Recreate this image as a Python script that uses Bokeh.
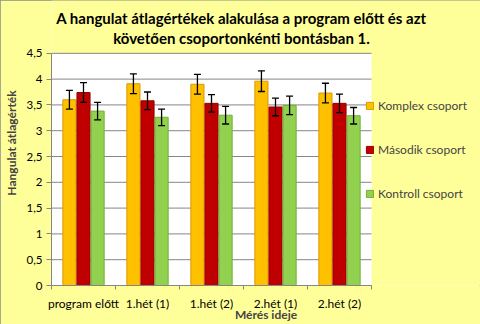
from bokeh.plotting import figure
from bokeh.models import (ColumnDataSource, FixedTicker, Whisker, TeeHead, Legend,
                          LegendItem, Label, BoxAnnotation)
from bokeh.embed import file_html
from bokeh.resources import INLINE

categories = ["program előtt", "1.hét (1)", "1.hét (2)", "2.hét (1)", "2.hét (2)"]
series = ["Komplex csoport", "Második csoport", "Kontroll csoport"]
komplex = [3.60, 3.91, 3.90, 3.96, 3.73]
komplex_err = [0.18, 0.19, 0.19, 0.20, 0.19]
masodik = [3.74, 3.58, 3.53, 3.46, 3.53]
masodik_err = [0.19, 0.17, 0.17, 0.17, 0.18]
kontroll = [3.38, 3.26, 3.30, 3.49, 3.29]
kontroll_err = [0.17, 0.16, 0.17, 0.18, 0.16]
y_ticks = [0, 0.5, 1, 1.5, 2, 2.5, 3, 3.5, 4, 4.5]
y_tick_labels = ["0", "0,5", "1", "1,5", "2", "2,5", "3", "3,5", "4", "4,5"]
title_lines = ["A hangulat átlagértékek alakulása a program előtt és azt",
               "követően csoportonkénti bontásban 1."]
x_title = "Mérés ideje"
y_title = "Hangulat átlagérték"

fills = ["#FFC000", "#C00000", "#92D050"]
edges = ["#D99A00", "#980000", "#72B030"]
offsets = [-0.22, 0.0, 0.22]
FONT = "Lato"
BG = "#FFFF99"

W, H = 480, 324
LEFT, BOTTOM = 47, 38          # outer margins holding the axes
PLOT_W, PLOT_H = 323, 233      # visible white plot area in pixels
n = len(categories)
y_max = y_ticks[-1]
frame_w, frame_h = W - LEFT, H - BOTTOM
x_end = n * frame_w / PLOT_W
y_end = y_max * frame_h / PLOT_H

p = figure(width=W, height=H, x_range=(0, x_end), y_range=(0, y_end),
           output_backend="svg", toolbar_location=None,
           min_border_left=LEFT, min_border_right=0, min_border_top=0,
           min_border_bottom=BOTTOM)
p.background_fill_color = BG
p.border_fill_color = BG
p.outline_line_color = None
p.styles = {"outline": "1px solid #8C8C8C", "outline-offset": "-1px"}
p.xgrid.visible = False
p.ygrid.visible = False

# white plot area
p.add_layout(BoxAnnotation(left=0, right=n, bottom=0, top=y_max, fill_color="white",
                           fill_alpha=1, line_color=None, level="underlay"))
# horizontal gridlines
p.segment(x0=[0] * len(y_ticks), x1=[n] * len(y_ticks), y0=y_ticks, y1=y_ticks,
          line_color="#868686", line_width=1)

centers = [i + 0.5 for i in range(n)]
renderers = []
for vals, errs, off, fc, ec in zip([komplex, masodik, kontroll],
                                   [komplex_err, masodik_err, kontroll_err],
                                   offsets, fills, edges):
    xs = [c + off for c in centers]
    src = ColumnDataSource(dict(x=xs, top=vals,
                                lower=[v - e for v, e in zip(vals, errs)],
                                upper=[v + e for v, e in zip(vals, errs)]))
    r = p.vbar(x="x", top="top", width=0.205, bottom=0, source=src,
               fill_color=fc, line_color=ec, line_width=1)
    renderers.append(r)
    w = Whisker(source=src, base="x", lower="lower", upper="upper",
                dimension="height", line_color="black", line_width=1.3,
                upper_head=TeeHead(size=7, line_color="black", line_width=1.3),
                lower_head=TeeHead(size=7, line_color="black", line_width=1.3),
                level="overlay")
    p.add_layout(w)

# axes
p.yaxis.bounds = (0, y_max)
p.yaxis.ticker = FixedTicker(ticks=y_ticks)
p.yaxis.major_label_overrides = {t: l for t, l in zip(y_ticks, y_tick_labels)}
p.yaxis.minor_tick_line_color = None
p.yaxis.major_tick_in = 0
p.yaxis.major_tick_out = 5
p.yaxis.major_label_text_font = FONT
p.yaxis.major_label_text_font_size = "11.5px"
p.yaxis.major_label_text_color = "black"
p.yaxis.major_label_standoff = 4
p.yaxis.axis_label = y_title
p.yaxis.axis_label_text_font = FONT
p.yaxis.axis_label_text_font_size = "12px"
p.yaxis.axis_label_text_font_style = "bold"
p.yaxis.axis_label_standoff = 5
p.yaxis.axis_line_color = "#868686"
p.yaxis.major_tick_line_color = "#868686"

p.xaxis.bounds = (0, n)
p.xaxis.ticker = FixedTicker(ticks=centers, minor_ticks=list(range(n + 1)))
p.xaxis.major_label_overrides = {c: l for c, l in zip(centers, categories)}
p.xaxis.major_tick_line_color = None
p.xaxis.major_tick_in = 0
p.xaxis.major_tick_out = 0
p.xaxis.minor_tick_in = 0
p.xaxis.minor_tick_out = 4
p.xaxis.minor_tick_line_color = "#868686"
p.xaxis.axis_line_color = "#868686"
p.xaxis.major_label_text_font = FONT
p.xaxis.major_label_text_font_size = "12px"
p.xaxis.major_label_text_color = "black"
p.xaxis.major_label_standoff = 6
p.xaxis.axis_label = x_title
p.xaxis.axis_label_text_font = FONT
p.xaxis.axis_label_text_font_size = "12px"
p.xaxis.axis_label_text_font_style = "bold"
p.xaxis.axis_label_standoff = -7

# legend
legend = Legend(items=[LegendItem(label=s, renderers=[r]) for s, r in zip(series, renderers)],
                location=(314, 84), orientation="vertical",
                glyph_width=9, glyph_height=9, label_height=14, spacing=29,
                label_standoff=4, padding=0, margin=0,
                border_line_color=None, background_fill_alpha=0,
                label_text_font=FONT, label_text_font_size="12px")
p.add_layout(legend)

# title
for i, line in enumerate(title_lines):
    p.add_layout(Label(x=190, y=268 - 20 * i, x_units="screen", y_units="screen",
                       text=line, text_align="center", text_baseline="middle",
                       text_font=FONT, text_font_size="15px",
                       text_font_style="bold", text_color="black"))

open("out.html", "w").write(file_html(p, INLINE))
